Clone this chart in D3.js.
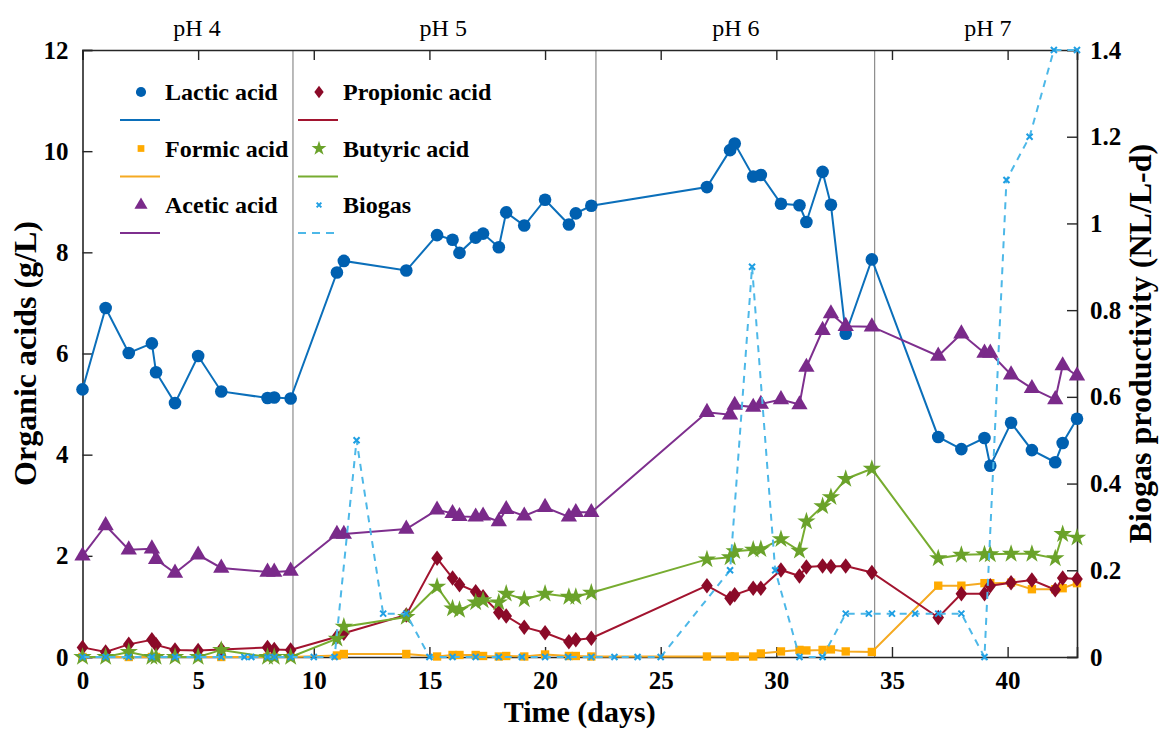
<!DOCTYPE html>
<html>
<head>
<meta charset="utf-8">
<script src="https://cdn.jsdelivr.net/npm/d3@7"></script>
<style>
  body { margin: 0; background: #fff; }
  svg { display: block; font-family: 'Liberation Serif', 'Times New Roman', serif; }
</style>
</head>
<body>
<svg id="chart" width="1162" height="731"></svg>
<script>
// sampling days shared by the acid series
const days = [0, 1, 2, 3, 3.18, 4, 5, 6, 8, 8.29, 9, 11, 11.3, 14, 15.33, 16, 16.3, 17, 17.32, 18, 18.32, 19.1, 20, 21.03, 21.33, 22,
  27, 28, 28.2, 29, 29.33, 30.2, 31, 31.3, 32, 32.36, 33, 34.13, 37, 38, 39, 39.25, 40.15, 41.05, 42.06, 42.38, 43]

const lactic = [5.29, 6.9, 6.01, 6.2, 5.63, 5.02, 5.95, 5.25, 5.12, 5.13, 5.11, 7.6, 7.83, 7.64, 8.34, 8.25, 7.99, 8.29, 8.37, 8.1, 8.79, 8.53, 9.04, 8.55, 8.77, 8.92,
  9.29, 10.02, 10.15, 9.5, 9.53, 8.96, 8.93, 8.6, 9.59, 8.94, 6.39, 7.86, 4.35, 4.11, 4.33, 3.78, 4.63, 4.09, 3.85, 4.23, 4.71]
const formic = [0, 0, 0, 0, 0, 0, 0, 0, 0, 0, 0, 0.03, 0.06, 0.06, 0.01, 0.04, 0.04, 0.04, 0.02, 0.01, 0.02, 0.01, 0.05, 0.02, 0.02, 0.01,
  0.01, 0.01, 0.01, 0.01, 0.07, 0.11, 0.14, 0.13, 0.14, 0.15, 0.11, 0.1, 1.41, 1.41, 1.46, 1.46, 1.47, 1.34, 1.34, 1.36, 1.46]
const acetic = [2.0, 2.6, 2.12, 2.14, 1.93, 1.66, 2.02, 1.76, 1.68, 1.68, 1.7, 2.43, 2.43, 2.53, 2.91, 2.84, 2.78, 2.77, 2.79, 2.68, 2.92, 2.79, 2.96, 2.77, 2.86, 2.86,
  4.84, 4.79, 4.98, 4.94, 5.0, 5.09, 4.99, 5.73, 6.46, 6.79, 6.54, 6.53, 5.95, 6.39, 6.01, 6.01, 5.58, 5.31, 5.09, 5.76, 5.56]
const propionic = [0.19, 0.1, 0.25, 0.34, 0.24, 0.14, 0.13, 0.15, 0.19, 0.15, 0.14, 0.4, 0.47, 0.83, 1.95, 1.56, 1.43, 1.29, 1.19, 0.88, 0.81, 0.59, 0.48, 0.3, 0.34, 0.37,
  1.41, 1.16, 1.23, 1.36, 1.36, 1.72, 1.6, 1.78, 1.8, 1.79, 1.8, 1.67, 0.78, 1.25, 1.25, 1.41, 1.47, 1.52, 1.33, 1.56, 1.54]
const butyric = [0, 0, 0.1, 0, 0, 0, 0, 0.14, 0, 0, 0, 0.36, 0.6, 0.79, 1.39, 0.96, 0.93, 1.08, 1.12, 1.08, 1.25, 1.14, 1.25, 1.19, 1.19, 1.27,
  1.93, 1.97, 2.09, 2.12, 2.13, 2.33, 2.1, 2.68, 2.98, 3.16, 3.52, 3.72, 1.95, 2.02, 2.03, 2.03, 2.04, 2.04, 1.95, 2.43, 2.36]

// biogas is on the right axis with its own days
const biogasDays = [0, 1, 2, 3, 4, 5, 6, 7, 7.3, 8, 8.3, 9, 10, 10.9, 11.85, 13, 14, 15, 16, 17, 18, 19, 20, 21, 22, 23, 24, 25,
  28, 28.95, 29.95, 31, 32, 33, 34, 35, 36, 37, 38, 39, 39.95, 40.95, 42, 43]
const biogas = [0, 0, 0, 0, 0, 0, 0, 0, 0, 0, 0, 0, 0, 0, 0.5, 0.1, 0.1, 0, 0, 0, 0, 0, 0, 0, 0, 0, 0, 0,
  0.2, 0.9, 0.2, 0, 0, 0.1, 0.1, 0.1, 0.1, 0.1, 0.1, 0, 1.1, 1.2, 1.4, 1.4]

const phBounds = [9.1, 22.2, 34.25]
const phLabels = ['pH 4', 'pH 5', 'pH 6', 'pH 7']
const phLabelPos = [4.95, 15.6, 28.25, 39.15]

const xTicks = [0, 5, 10, 15, 20, 25, 30, 35, 40]
const yTicks = [0, 2, 4, 6, 8, 10, 12]
const y2Ticks = [0, 0.2, 0.4, 0.6, 0.8, 1, 1.2, 1.4]

const margin = { top: 50, right: 85, bottom: 74, left: 82.5 }
const width = 1162 - margin.left - margin.right
const height = 731 - margin.top - margin.bottom
const axisColor = '#262626'

const svg = d3.select('#chart')
const g = svg.append('g').attr('transform', `translate(${margin.left}, ${margin.top})`)

const xScale = d3.scaleLinear().domain([0, 43]).range([0, width])
const yScale = d3.scaleLinear().domain([0, 12]).range([height, 0])
const y2Scale = d3.scaleLinear().domain([0, 1.4]).range([height, 0])

// matlab-like marker shapes
const timesSymbol = {
  draw(context, size) {
    const r = Math.sqrt(size) / 2
    context.moveTo(-r, -r); context.lineTo(r, r)
    context.moveTo(r, -r); context.lineTo(-r, r)
  }
}
const wideDiamond = {
  draw(context, size) {
    const h = Math.sqrt(size / 1.5)
    const w = h * 0.75
    context.moveTo(0, -h); context.lineTo(w, 0); context.lineTo(0, h); context.lineTo(-w, 0); context.closePath()
  }
}

const series = [
  { name: 'Lactic acid', values: lactic, line: '#0b6fba', fill: '#0060b0', symbol: d3.symbolCircle, size: 125 },
  { name: 'Formic acid', values: formic, line: '#f5aa22', fill: '#ffaa00', symbol: d3.symbolSquare, size: 70 },
  { name: 'Acetic acid', values: acetic, line: '#7e2f8e', fill: '#7a2a8a', symbol: d3.symbolTriangle, size: 115 },
  { name: 'Propionic acid', values: propionic, line: '#a2142f', fill: '#8b0a28', symbol: wideDiamond, size: 90 },
  { name: 'Butyric acid', values: butyric, line: '#77ac30', fill: '#6aa22a', symbol: d3.symbolStar, size: 105 },
]

// pH dividers
g.append('g')
  .selectAll('line')
  .data(phBounds)
  .join('line')
  .attr('x1', d => xScale(d))
  .attr('x2', d => xScale(d))
  .attr('y1', 0)
  .attr('y2', height)
  .attr('stroke', '#8c8c8c')
  .attr('stroke-width', 1.2)

// axes: box with inward ticks
const fmt = d => d3.format('~g')(d)

const xAxisBottom = d3.axisBottom(xScale).tickValues(xTicks).tickSize(-10).tickPadding(14).tickFormat(fmt)
const xAxisTop = d3.axisTop(xScale).tickValues(xTicks).tickSize(-10).tickFormat('')
const yAxis = d3.axisLeft(yScale).tickValues(yTicks).tickSize(-10).tickPadding(14).tickFormat(fmt)
const y2Axis = d3.axisRight(y2Scale).tickValues(y2Ticks).tickSize(-10).tickPadding(13).tickFormat(fmt)

const axes = [
  g.append('g').attr('transform', `translate(0, ${height})`).call(xAxisBottom),
  g.append('g').call(xAxisTop),
  g.append('g').call(yAxis),
  g.append('g').attr('transform', `translate(${width}, 0)`).call(y2Axis),
]
axes.forEach(a => {
  a.select('.domain').attr('stroke', axisColor).attr('stroke-width', 1.6)
  a.selectAll('.tick line').attr('stroke', axisColor).attr('stroke-width', 1.4)
  a.selectAll('.tick text')
    .attr('fill', '#000')
    .attr('font-family', 'Liberation Serif')
    .attr('font-weight', 'bold')
    .attr('font-size', 25)
})
axes[0].selectAll('.tick').filter(d => d === 0).select('line').remove()

// pH labels
g.append('g')
  .selectAll('text')
  .data(phLabels)
  .join('text')
  .attr('x', (d, i) => xScale(phLabelPos[i]))
  .attr('y', -14)
  .attr('text-anchor', 'middle')
  .attr('font-size', 24)
  .text(d => d)

// acid series
const lineGen = vals => d3.line().x((d, i) => xScale(days[i])).y(d => yScale(d))(vals)

series.forEach(s => {
  const sg = g.append('g')
  sg.append('path')
    .attr('d', lineGen(s.values))
    .attr('fill', 'none')
    .attr('stroke', s.line)
    .attr('stroke-width', 2)
  sg.selectAll('path.mark')
    .data(s.values)
    .join('path')
    .attr('class', 'mark')
    .attr('d', d3.symbol().type(s.symbol).size(s.size))
    .attr('transform', (d, i) => `translate(${xScale(days[i])}, ${yScale(d)})`)
    .attr('fill', s.fill)
})

// biogas on right axis
const bg = g.append('g')
bg.append('path')
  .attr('d', d3.line().x((d, i) => xScale(biogasDays[i])).y(d => y2Scale(d))(biogas))
  .attr('fill', 'none')
  .attr('stroke', '#4db8e8')
  .attr('stroke-width', 2)
  .attr('stroke-dasharray', '7,6')
bg.selectAll('path.mark')
  .data(biogas)
  .join('path')
  .attr('class', 'mark')
  .attr('d', d3.symbol().type(timesSymbol).size(36))
  .attr('transform', (d, i) => `translate(${xScale(biogasDays[i])}, ${y2Scale(d)})`)
  .attr('fill', 'none')
  .attr('stroke', '#1f9fe3')
  .attr('stroke-width', 2)

// legend, two columns of three
const legendItems = [
  series[0], series[1], series[2], series[3], series[4],
  { name: 'Biogas', line: '#4db8e8', fill: '#1f9fe3', symbol: timesSymbol, size: 34, dashed: true },
]
const legend = svg.append('g')
legendItems.forEach((s, i) => {
  const col = Math.floor(i / 3)
  const row = i % 3
  const lx = 120 + col * 178
  const ly = 92 + row * 56.5
  const item = legend.append('g').attr('transform', `translate(${lx}, ${ly})`)
  const mark = item.append('path')
    .attr('d', d3.symbol().type(s.symbol).size(s.size * 0.65))
    .attr('transform', 'translate(21, 0)')
  if (s.symbol === timesSymbol) {
    mark.attr('fill', 'none').attr('stroke', s.fill).attr('stroke-width', 2)
  } else {
    mark.attr('fill', s.fill)
  }
  item.append('text')
    .attr('x', 45)
    .attr('y', 8)
    .attr('font-size', 24)
    .attr('font-weight', 'bold')
    .text(s.name)
  item.append('line')
    .attr('x1', 0)
    .attr('x2', 40)
    .attr('y1', 28)
    .attr('y2', 28)
    .attr('stroke', s.line)
    .attr('stroke-width', 2)
    .attr('stroke-dasharray', s.dashed ? '8,6' : null)
})

// axis titles
svg.append('text')
  .attr('transform', `translate(36, ${margin.top + height / 2}) rotate(-90)`)
  .attr('text-anchor', 'middle')
  .attr('font-size', 32)
  .attr('font-weight', 'bold')
  .text('Organic acids (g/L)')

svg.append('text')
  .attr('transform', `translate(1151, ${margin.top + height / 2 - 10}) rotate(-90)`)
  .attr('text-anchor', 'middle')
  .attr('font-size', 32)
  .attr('font-weight', 'bold')
  .text('Biogas productivity (NL/L-d)')

svg.append('text')
  .attr('x', margin.left + xScale(21.5))
  .attr('y', 722)
  .attr('text-anchor', 'middle')
  .attr('font-size', 30)
  .attr('font-weight', 'bold')
  .text('Time (days)')
</script>
</body>
</html>
